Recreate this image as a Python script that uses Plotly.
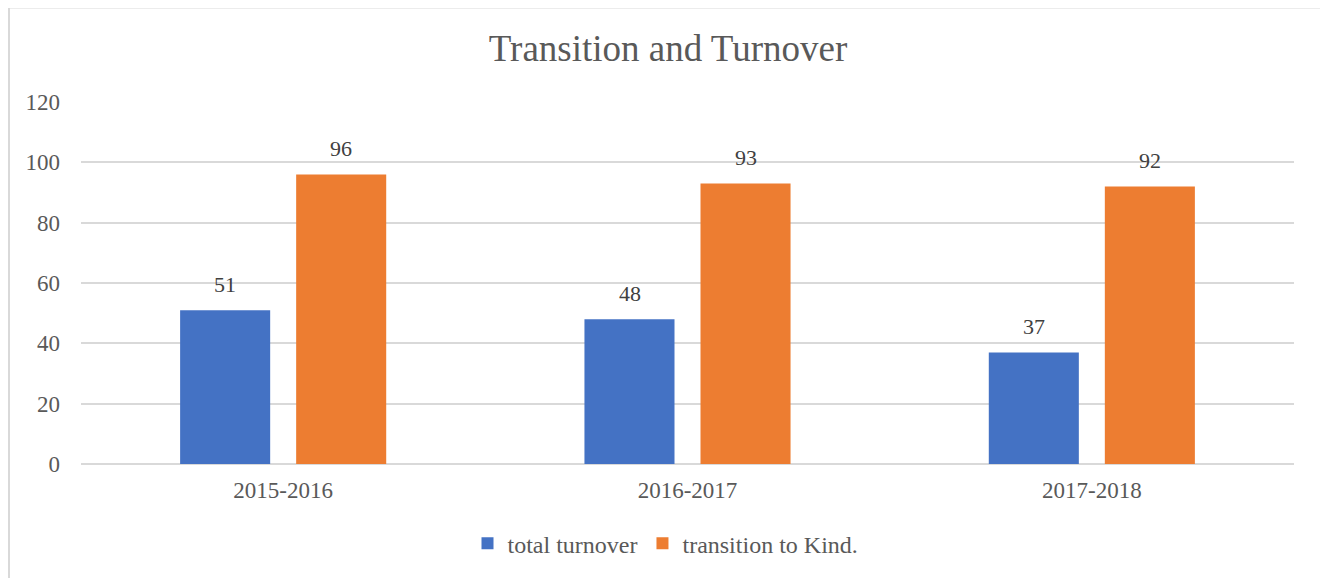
import plotly.graph_objects as go

categories = ["2015-2016", "2016-2017", "2017-2018"]
total_turnover = [51, 48, 37]
transition_to_kind = [96, 93, 92]
series_names = ["total turnover", "transition to Kind."]
y_ticks = [0, 20, 40, 60, 80, 100, 120]

FONT = "Liberation Serif, Times New Roman, serif"
TXT = "#595959"

# page has an 8px body margin; figure is sized to fill the rest of the window
W, H = 1320, 570
PL, PR, PT, PB = 73, 1286, 94, 458  # plot area in figure pixels

fig = go.Figure()
fig.add_trace(go.Bar(x=categories, y=total_turnover, name=series_names[0],
                     marker=dict(color="#4472C4", line=dict(width=0))))
fig.add_trace(go.Bar(x=categories, y=transition_to_kind, name=series_names[1],
                     marker=dict(color="#ED7D31", line=dict(width=0))))

annotations = []
for vals, shift in [(total_turnover, -58), (transition_to_kind, 58)]:
    for c, v in zip(categories, vals):
        annotations.append(dict(x=c, y=v, xref="x", yref="y", text=str(v),
                                showarrow=False, xshift=shift, yshift=11,
                                yanchor="bottom",
                                font=dict(family=FONT, size=22, color="#404040")))

pw, ph = PR - PL, PB - PT
fig.update_layout(
    width=W, height=H,
    margin=dict(l=PL, r=W - PR, t=PT, b=H - PB),
    paper_bgcolor="white", plot_bgcolor="white",
    title=dict(text="Transition and Turnover", x=0.5, xanchor="center",
               y=1 - 40 / H, yanchor="middle",
               font=dict(family=FONT, size=37, color=TXT)),
    barmode="group", bargap=0.426, bargroupgap=0.224,
    font=dict(family=FONT, size=22, color=TXT),
    xaxis=dict(showgrid=False, showline=False, zeroline=False, ticks="",
               ticklabelstandoff=10,
               tickfont=dict(family=FONT, size=23, color=TXT)),
    yaxis=dict(range=[0, 120], tickvals=y_ticks, showgrid=True,
               gridcolor="#D9D9D9", gridwidth=2, zeroline=True,
               zerolinecolor="#D9D9D9", zerolinewidth=2, showline=False,
               ticks="", ticklabelstandoff=20,
               tickfont=dict(family=FONT, size=23, color=TXT)),
    legend=dict(orientation="h", x=0.5 - 22 / pw, xanchor="center",
                y=-(538 - PB) / ph, yanchor="middle",
                font=dict(family=FONT, size=24, color=TXT),
                itemwidth=30, traceorder="normal"),
    annotations=annotations,
    shapes=[dict(type="rect", xref="paper", yref="paper",
                 x0=(1 - PL) / pw, x1=(1314 - PL) / pw,
                 y0=-(600 - PB) / ph, y1=(PB + 1) / ph,
                 line=dict(color="#D9D9D9", width=2), fillcolor="rgba(0,0,0,0)",
                 layer="below")],
)

fig.write_html("out.html")
